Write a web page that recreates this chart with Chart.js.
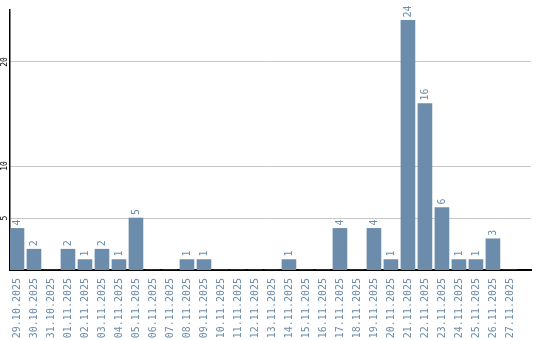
<!DOCTYPE html>
<html>
<head>
<meta charset="utf-8">
<script src="https://cdn.jsdelivr.net/npm/chart.js@4/dist/chart.umd.min.js"></script>
<style>
  body { margin: 0; background: #fff; }
  #wrap { width: 540px; height: 340px; }
</style>
</head>
<body>
<div id="wrap"><canvas id="chart"></canvas></div>
<script>
// dates (x categories)
var days = ["29.10.2025", "30.10.2025", "31.10.2025", "01.11.2025", "02.11.2025", "03.11.2025",
  "04.11.2025", "05.11.2025", "06.11.2025", "07.11.2025", "08.11.2025", "09.11.2025",
  "10.11.2025", "11.11.2025", "12.11.2025", "13.11.2025", "14.11.2025", "15.11.2025",
  "16.11.2025", "17.11.2025", "18.11.2025", "19.11.2025", "20.11.2025", "21.11.2025",
  "22.11.2025", "23.11.2025", "24.11.2025", "25.11.2025", "26.11.2025", "27.11.2025"];
// count per day
var counts = [4, 2, 0, 2, 1, 2, 1, 5, 0, 0, 1, 1, 0, 0, 0, 0, 1, 0, 0, 4, 0, 4, 1, 24, 16, 6, 1, 1, 3, 0];
// y ticks shown
var yTicks = [5, 10, 20];

var barColor = "#6b8cab";
var points = [];
for (var i = 0; i < days.length; i++) {
  points.push({ x: i, y: counts[i] });
}

// value labels over the bars + rotated y tick labels
var labelsPlugin = {
  id: "labelsPlugin",
  afterDatasetsDraw: function (chart) {
    var ctx = chart.ctx;
    var meta = chart.getDatasetMeta(0);
    ctx.save();
    ctx.font = "10px 'DejaVu Sans Mono'";
    ctx.fillStyle = barColor;
    ctx.textAlign = "left";
    ctx.textBaseline = "middle";
    meta.data.forEach(function (bar, i) {
      if (!counts[i]) return;
      ctx.save();
      ctx.translate(bar.x, bar.y - 3);
      ctx.rotate(-Math.PI / 2);
      ctx.fillText(String(counts[i]), 0, 0);
      ctx.restore();
    });
    var y = chart.scales.y;
    ctx.font = "8px 'DejaVu Sans Mono'";
    ctx.fillStyle = "#000";
    ctx.textAlign = "center";
    yTicks.forEach(function (t) {
      ctx.save();
      ctx.translate(5, y.getPixelForValue(t));
      ctx.rotate(-Math.PI / 2);
      ctx.fillText(String(t), 0, 0);
      ctx.restore();
    });
    ctx.restore();
  }
};

new Chart(document.getElementById("chart"), {
  type: "bar",
  data: {
    datasets: [{
      data: points,
      backgroundColor: barColor,
      barThickness: 14
    }]
  },
  options: {
    responsive: true,
    maintainAspectRatio: false,
    animation: false,
    layout: { padding: { left: 10, right: 9, top: 10, bottom: 0 } },
    plugins: { legend: { display: false }, tooltip: { enabled: false } },
    scales: {
      x: {
        type: "linear",
        min: -0.41,
        max: 30.24,
        offset: false,
        grid: { display: false },
        border: { display: true, color: "#000", width: 2 },
        afterBuildTicks: function (scale) {
          scale.ticks = days.map(function (d, i) { return { value: i }; });
        },
        afterFit: function (scale) {
          scale.height = 70;
          scale.paddingLeft = 0;
          scale.paddingRight = 0;
        },
        ticks: {
          autoSkip: false,
          minRotation: 90,
          maxRotation: 90,
          padding: 0,
          color: barColor,
          font: { family: "'DejaVu Sans Mono'", size: 10 },
          callback: function (v) { return days[v]; }
        }
      },
      y: {
        min: 0,
        max: 25,
        afterBuildTicks: function (scale) {
          scale.ticks = yTicks.map(function (v) { return { value: v }; });
        },
        afterFit: function (scale) {
          scale.width = 0;
          scale.paddingTop = 0;
          scale.paddingBottom = 0;
        },
        ticks: { display: false },
        grid: { color: "#c8c8c8", lineWidth: 1, drawTicks: false },
        border: { display: true, color: "#000", width: 1.5 }
      }
    }
  },
  plugins: [labelsPlugin]
});
</script>
</body>
</html>
